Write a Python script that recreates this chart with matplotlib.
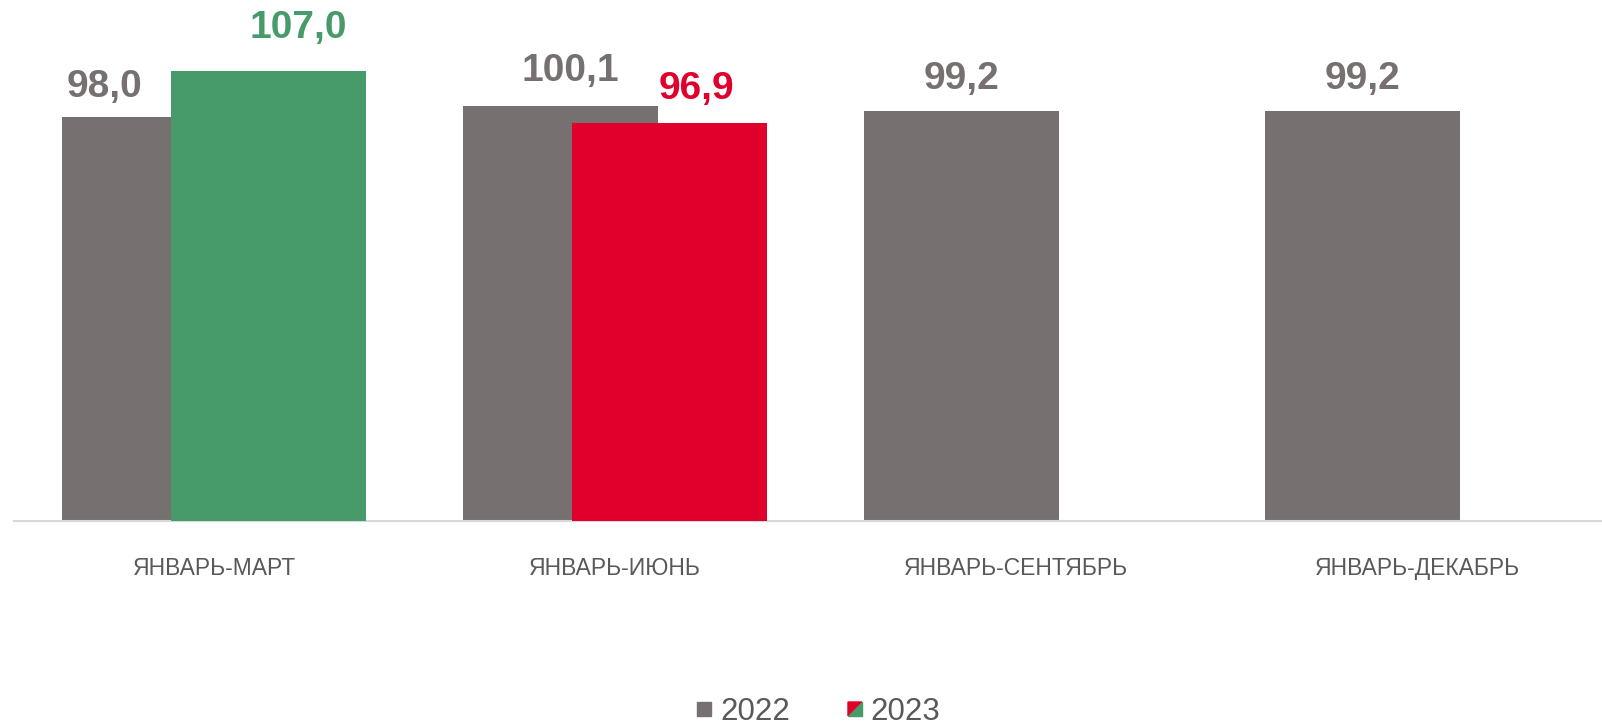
import matplotlib.pyplot as plt
from matplotlib.patches import Rectangle, Polygon

plt.rcParams['font.family'] = ['Liberation Sans', 'DejaVu Sans']

categories = ["ЯНВАРЬ-МАРТ", "ЯНВАРЬ-ИЮНЬ", "ЯНВАРЬ-СЕНТЯБРЬ", "ЯНВАРЬ-ДЕКАБРЬ"]
values_2022 = [98.0, 100.1, 99.2, 99.2]
values_2023 = [107.0, 96.9]
colors_2023 = ["#479A69", "#E0002B"]

GRAY = "#767170"
TEXT = "#595959"

fig = plt.figure(figsize=(16.02, 7.25), dpi=100)
ax = fig.add_axes([13.5 / 1602, 204 / 725, 1604 / 1602, 521 / 725])

width = 0.486
shift = 0.136
x = list(range(len(categories)))

# 2022 keeps its slot left of centre even where 2023 is empty
x22 = [i - shift for i in x]
ax.bar(x22, [v - 20 for v in values_2022], width, bottom=20, color=GRAY, zorder=2)
x23 = [i + shift for i in range(len(values_2023))]
ax.bar(x23, [v - 20 for v in values_2023], width, bottom=20, color=colors_2023, zorder=3)

# value labels (hand-placed like in the original)
off22 = [(-55, 20), (10, 25), (0, 22), (0, 22)]
off23 = [(30, 33), (27, 24)]
for xi, v, (dx, dy) in zip(x22, values_2022, off22):
    ax.annotate(f"{v:.1f}".replace('.', ','), (xi, v), xytext=(dx, dy), textcoords='offset pixels',
                ha='center', va='baseline', fontsize=28, fontweight='bold', color=GRAY,
                annotation_clip=False)
for xi, v, c, (dx, dy) in zip(x23, values_2023, colors_2023, off23):
    ax.annotate(f"{v:.1f}".replace('.', ','), (xi, v), xytext=(dx, dy), textcoords='offset pixels',
                ha='center', va='baseline', fontsize=28, fontweight='bold', color=c,
                annotation_clip=False)

ax.set_xlim(-0.5, 3.5)
ax.set_ylim(20, 20 + 521 / 5.178)
ax.set_xticks(x)
ax.set_xticklabels(categories, fontsize=16.5, color=TEXT)
ax.tick_params(axis='x', length=0, pad=26)
ax.set_yticks([])
for s in ['top', 'left', 'right']:
    ax.spines[s].set_visible(False)
ax.spines['bottom'].set_color('#D9D9D9')
ax.spines['bottom'].set_linewidth(1.5)

# legend drawn in figure pixels
lg = fig.add_axes([0, 0, 1, 1], zorder=5)
lg.set_xlim(0, 1602)
lg.set_ylim(725, 0)
lg.axis('off')
lg.add_patch(Rectangle((697, 702), 14, 14, color=GRAY))
lg.text(720, 712, "2022", fontsize=22.5, color=TEXT, va='center', ha='left')
lg.add_patch(Polygon([(848, 702), (862, 702), (848, 716)], closed=True, color="#E0002B"))
lg.add_patch(Polygon([(862, 702), (862, 716), (848, 716)], closed=True, color="#479A69"))
lg.text(870, 712, "2023", fontsize=22.5, color=TEXT, va='center', ha='left')

fig.savefig("out.png", dpi=100)
